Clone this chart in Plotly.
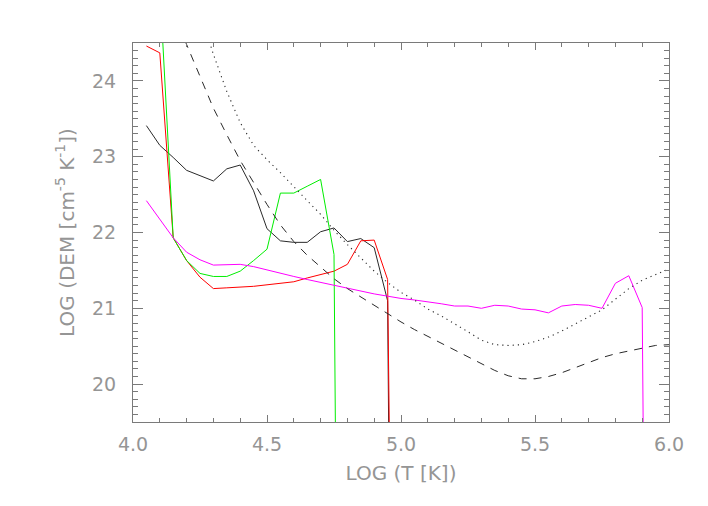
import plotly.graph_objects as go

# log T grid (shared by all curves)
logt = [4.05, 4.10, 4.15, 4.20, 4.25, 4.30, 4.35, 4.40, 4.45, 4.50,
        4.55, 4.60, 4.65, 4.70, 4.75, 4.80, 4.85, 4.90, 4.95, 5.00,
        5.05, 5.10, 5.15, 5.20, 5.25, 5.30, 5.35, 5.40, 5.45, 5.50,
        5.55, 5.60, 5.65, 5.70, 5.75, 5.80, 5.85, 5.90, 5.95, 6.00]

# observed DEM curves (start at 4.05)
dem_black = [23.41, 23.15, 22.99, 22.82, 22.75, 22.68, 22.84, 22.89, 22.55, 22.05,
             21.89, 21.87, 21.87, 22.01, 22.06, 21.88, 21.92, 21.80, 21.10, 0.0]
dem_red = [24.46, 24.37, 21.93, 21.63, 21.41, 21.26, 21.27, 21.28, 21.29, 21.31,
           21.33, 21.35, 21.40, 21.44, 21.49, 21.58, 21.89, 21.90, 21.38, 6.0]
dem_green = [26.00, 25.25, 21.93, 21.63, 21.46, 21.42, 21.42, 21.49, 21.63, 21.78,
             22.52, 22.52, 22.61, 22.70, 21.71, 0.0]
dem_magenta = [22.42, 22.18, 21.93, 21.74, 21.64, 21.57, 21.58, 21.58, 21.55, 21.51,
               21.47, 21.42, 21.38, 21.34, 21.30, 21.26, 21.22, 21.19, 21.16, 21.13,
               21.11, 21.09, 21.06, 21.03, 21.03, 21.00, 21.04, 21.03, 20.99, 20.98,
               20.94, 21.03, 21.05, 21.04, 21.00, 21.33, 21.43, 21.01, 0.0]

# model curves
dem_dashed = [24.90, 24.48, 24.06, 23.64, 23.29, 22.95, 22.66, 22.37, 22.10, 21.88,
              21.70, 21.54, 21.39, 21.26, 21.15, 21.03, 20.93, 20.82, 20.72, 20.63,
              20.55, 20.46, 20.36, 20.27, 20.18, 20.11, 20.07, 20.07, 20.10, 20.15,
              20.22, 20.29, 20.35, 20.40, 20.44, 20.48, 20.51, 20.52]  # from 4.15
dem_dotted = [24.91, 24.35, 23.86, 23.45, 23.15, 22.96, 22.79, 22.60, 22.42, 22.24,
              22.03, 21.84, 21.66, 21.49, 21.34, 21.21, 21.11, 20.99, 20.90, 20.80,
              20.69, 20.58, 20.52, 20.51, 20.52, 20.56, 20.62, 20.70, 20.79, 20.88,
              20.98, 21.12, 21.26, 21.37, 21.45, 21.52]  # from 4.25

AXIS = "#7a7a7a"
TEXT = "#959595"
FONT = "DejaVu Sans"

series = [
    (logt, dem_black, "#2a2a2a", "solid", 1),
    (logt, dem_red, "#ff0000", "solid", 1),
    (logt, dem_green, "#00ee00", "solid", 1),
    (logt, dem_magenta, "#ff00ff", "solid", 1),
    (logt[2:], dem_dashed, "#2a2a2a", "8px,7px", 1),
    (logt[4:], dem_dotted, "#2a2a2a", "1.2px,4px", 1.1),
]

fig = go.Figure()

for x, y, color, dash, w in series:
    fig.add_trace(
        go.Scatter(
            x=x[:len(y)],
            y=y,
            mode="lines",
            line=dict(color=color, width=w, dash=dash),
            showlegend=False,
            hoverinfo="skip",
        )
    )

# page body has an 8px margin, so the figure is 8px smaller than the window
fig.update_layout(
    width=700,
    height=498,
    margin=dict(l=125, r=39, t=35, b=84),
    paper_bgcolor="white",
    plot_bgcolor="white",
    font=dict(family=FONT, color=TEXT, size=18),
)

fig.update_xaxes(
    range=[4.0, 6.0],
    tickvals=[4.0, 4.5, 5.0, 5.5, 6.0],
    ticktext=["4.0", "4.5", "5.0", "5.5", "6.0"],
    ticks="inside",
    ticklen=7,
    tickcolor=AXIS,
    minor=dict(dtick=0.1, ticks="inside", ticklen=4, tickcolor=AXIS, showgrid=False),
    showline=True,
    linecolor=AXIS,
    linewidth=1,
    mirror="ticks",
    showgrid=False,
    zeroline=False,
    ticklabelstandoff=5,
    tickfont=dict(size=19, color=TEXT),
    title=dict(text="LOG (T [K])", font=dict(size=20, color=TEXT), standoff=12),
)

fig.update_yaxes(
    range=[19.5, 24.5],
    tickvals=[20, 21, 22, 23, 24],
    ticks="inside",
    ticklen=10,
    tickcolor=AXIS,
    minor=dict(dtick=0.1, ticks="inside", ticklen=5, tickcolor=AXIS, showgrid=False),
    showline=True,
    linecolor=AXIS,
    linewidth=1,
    mirror="ticks",
    showgrid=False,
    zeroline=False,
    ticklabelstandoff=12,
    tickfont=dict(size=19, color=TEXT),
    title=dict(
        text="LOG (DEM [cm<sup>-5</sup> K<sup>-1</sup>])",
        font=dict(size=20, color=TEXT),
        standoff=12,
    ),
)

fig.write_html("out.html")
